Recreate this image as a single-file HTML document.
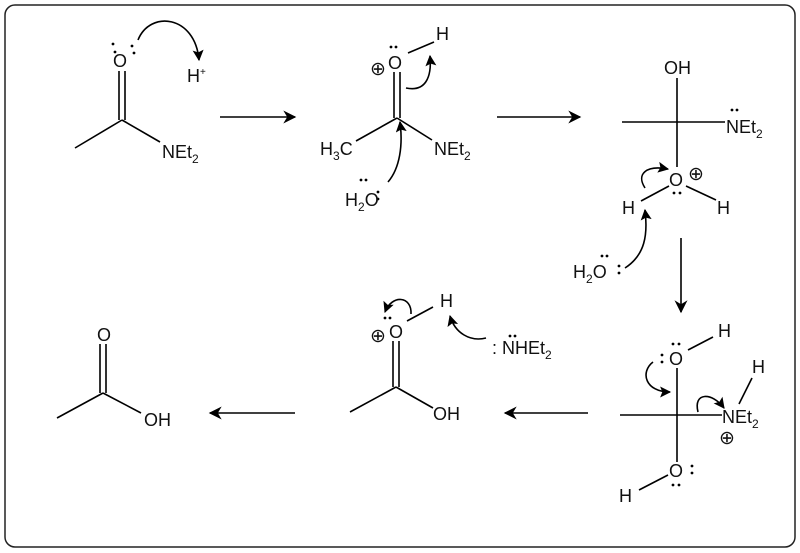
<!DOCTYPE html>
<html><head><meta charset="utf-8"><style>
html,body{margin:0;padding:0;background:#fff;}
svg{display:block;}
text{font-family:"Liberation Sans",sans-serif;font-size:18px;fill:#111;}
.p{font-size:19px;}
</style></head><body>
<svg width="800" height="553" viewBox="0 0 800 553" xmlns="http://www.w3.org/2000/svg">
<defs>
<marker id="ah" viewBox="0 0 10 10" refX="9" refY="5" markerWidth="14" markerHeight="11" orient="auto" markerUnits="userSpaceOnUse"><path d="M0,0 L10,5 L0,10 L2,5 Z" fill="#000"/></marker>
<marker id="bh" viewBox="0 0 10 10" refX="9" refY="5" markerWidth="20" markerHeight="13" orient="auto" markerUnits="userSpaceOnUse"><path d="M0,0 L10,5 L0,10 L3,5 Z" fill="#000"/></marker>
</defs>
<rect x="5" y="5" width="790" height="542" rx="10" fill="none" stroke="#222" stroke-width="1.5"/>
<g stroke="#000" stroke-width="1.6" fill="none">
<line x1="75" y1="148" x2="122" y2="120"/><line x1="122" y1="120" x2="160" y2="142"/>
<line x1="119" y1="120" x2="119" y2="71"/><line x1="125" y1="120" x2="125" y2="71"/>
<path d="M138,40 C150,10 195,15 199,60" marker-end="url(#ah)"/>
<line x1="220" y1="117" x2="295" y2="117" marker-end="url(#bh)"/>
<line x1="497" y1="117" x2="580" y2="117" marker-end="url(#bh)"/>
<line x1="681" y1="238" x2="681" y2="312" marker-end="url(#bh)"/>
<line x1="588" y1="413" x2="505" y2="413" marker-end="url(#bh)"/>
<line x1="295" y1="413" x2="210" y2="413" marker-end="url(#bh)"/>
<line x1="356" y1="141" x2="397" y2="118"/><line x1="397" y1="118" x2="432" y2="140"/>
<line x1="394" y1="118" x2="394" y2="72"/><line x1="400" y1="118" x2="400" y2="72"/>
<line x1="408" y1="53" x2="434" y2="42"/>
<path d="M406,88 C425,92 432,78 430,56" marker-end="url(#ah)"/>
<path d="M388,182 C400,168 403,145 400,122" marker-end="url(#ah)"/>
<line x1="622" y1="122" x2="725" y2="122"/><line x1="677" y1="78" x2="677" y2="167"/>
<line x1="641" y1="201" x2="669" y2="186"/><line x1="686" y1="186" x2="716" y2="200"/>
<path d="M645,188 C636,174 646,165 668,169" marker-end="url(#ah)"/>
<path d="M625,268 C645,255 648,235 645,210" marker-end="url(#ah)"/>
<line x1="620" y1="415" x2="722" y2="415"/><line x1="677" y1="368" x2="677" y2="462"/>
<line x1="688" y1="350" x2="713" y2="337"/><line x1="739" y1="404" x2="752" y2="378"/>
<line x1="639" y1="490" x2="668" y2="475"/>
<path d="M653,362 C640,372 645,392 670,392" marker-end="url(#ah)"/>
<path d="M698,412 C693,392 712,392 724,408" marker-end="url(#ah)"/>
<line x1="350" y1="412" x2="396" y2="387"/><line x1="396" y1="387" x2="433" y2="408"/>
<line x1="393" y1="387" x2="393" y2="341"/><line x1="399" y1="387" x2="399" y2="341"/>
<line x1="407" y1="321" x2="433" y2="307"/>
<path d="M411,314 C412,296 392,294 385,312" marker-end="url(#ah)"/>
<path d="M486,338 C470,342 455,333 450,316" marker-end="url(#ah)"/>
<line x1="57" y1="418" x2="103" y2="393"/><line x1="103" y1="393" x2="141" y2="413"/>
<line x1="100" y1="393" x2="100" y2="344"/><line x1="106" y1="393" x2="106" y2="344"/>
</g>
<g fill="#000">
<circle cx="113" cy="44" r="1.4"/><circle cx="115" cy="52" r="1.4"/><circle cx="132" cy="46" r="1.4"/><circle cx="134" cy="53" r="1.4"/>
<circle cx="391" cy="47" r="1.4"/><circle cx="396" cy="47" r="1.4"/>
<circle cx="361" cy="180" r="1.4"/><circle cx="366" cy="180" r="1.4"/><circle cx="378" cy="192" r="1.4"/><circle cx="378" cy="199" r="1.4"/>
<circle cx="732" cy="110" r="1.4"/><circle cx="737" cy="110" r="1.4"/>
<circle cx="674" cy="193" r="1.4"/><circle cx="680" cy="193" r="1.4"/>
<circle cx="602" cy="256" r="1.4"/><circle cx="607" cy="256" r="1.4"/><circle cx="619" cy="266" r="1.4"/><circle cx="619" cy="273" r="1.4"/>
<circle cx="673" cy="344" r="1.4"/><circle cx="679" cy="344" r="1.4"/><circle cx="662" cy="355" r="1.4"/><circle cx="662" cy="362" r="1.4"/>
<circle cx="692" cy="466" r="1.4"/><circle cx="692" cy="473" r="1.4"/><circle cx="673" cy="485" r="1.4"/><circle cx="679" cy="485" r="1.4"/>
<circle cx="385" cy="318" r="1.4"/><circle cx="390" cy="318" r="1.4"/>
<circle cx="510" cy="336" r="1.4"/><circle cx="515" cy="336" r="1.4"/>
</g>
<g>
<text x="113" y="67">O</text>
<text x="187" y="82">H<tspan font-size="10" dy="-7">+</tspan></text>
<text x="162" y="158">NEt<tspan font-size="12" dy="5">2</tspan></text>
<text x="388" y="69">O</text>
<text x="370" y="75" class="p">⊕</text>
<text x="436" y="40">H</text>
<text x="320" y="155">H<tspan font-size="12" dy="5">3</tspan><tspan dy="-5">C</tspan></text>
<text x="434" y="155">NEt<tspan font-size="12" dy="5">2</tspan></text>
<text x="345" y="206">H<tspan font-size="12" dy="5">2</tspan><tspan dy="-5">O</tspan></text>
<text x="664" y="74">OH</text>
<text x="726" y="133">NEt<tspan font-size="12" dy="5">2</tspan></text>
<text x="669" y="186">O</text><text x="688" y="180" class="p">⊕</text>
<text x="622" y="214">H</text><text x="717" y="214">H</text>
<text x="573" y="278">H<tspan font-size="12" dy="5">2</tspan><tspan dy="-5">O</tspan></text>
<text x="669" y="365">O</text>
<text x="718" y="337">H</text><text x="752" y="373">H</text>
<text x="722" y="423">NEt<tspan font-size="12" dy="5">2</tspan></text>
<text x="719" y="444" class="p">⊕</text>
<text x="669" y="477">O</text>
<text x="619" y="502">H</text>
<text x="389" y="338">O</text>
<text x="370" y="342" class="p">⊕</text>
<text x="440" y="307">H</text>
<text x="492" y="354">: NHEt<tspan font-size="12" dy="5">2</tspan></text>
<text x="433" y="420">OH</text>
<text x="97" y="341">O</text>
<text x="144" y="426">OH</text>
</g>
</svg>
</body></html>
